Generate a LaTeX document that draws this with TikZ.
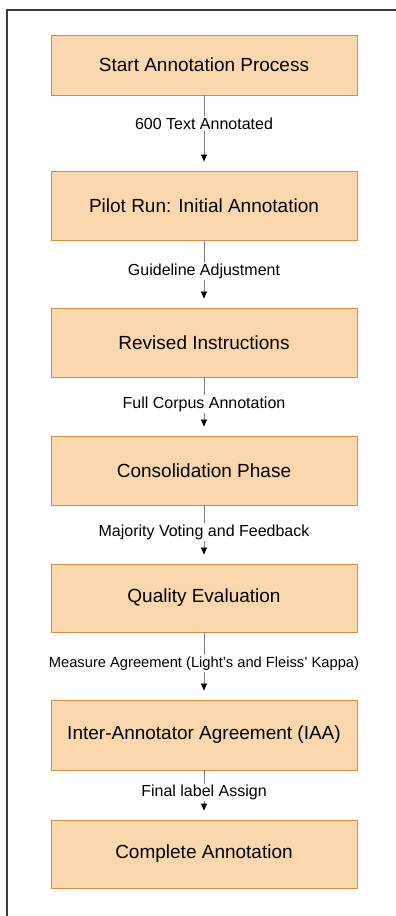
\documentclass[tikz,border=0pt]{standalone}
\usepackage{fontspec}
\setmainfont{Liberation Sans}
\usetikzlibrary{arrows.meta}
\definecolor{boxfill}{HTML}{FAD7AC}
\definecolor{boxline}{HTML}{D4903A}
\definecolor{arrowgray}{HTML}{7F7F7F}
\definecolor{framegray}{HTML}{3A3A3A}
\begin{document}
\begin{tikzpicture}[
    x=1pt, y=-1pt,
    stepbox/.style={rectangle, draw=boxline, fill=boxfill, line width=0.9pt, minimum width=306pt, minimum height=68pt, inner sep=0pt, font=\fontsize{19}{22}\selectfont}, % Estilo das etapas
    flowlabel/.style={fill=white, inner sep=1.5pt, yshift=-2pt, font=\fontsize{16}{18}\selectfont}, % Texto sobre as setas
    flowarrow/.style={draw=arrowgray, line width=0.8pt, -{Triangle[length=7pt, width=6pt, color=black]}}
]
\useasboundingbox (0,0) rectangle (396,916);
\draw[framegray, line width=1.6pt] (7,920) -- (7,10) -- (400,10);

\node[stepbox, minimum height=60pt] (start) at (204,65) {Start Annotation Process};
\node[stepbox, minimum height=69pt] (pilot) at (204,205.5) {Pilot Run: Initial Annotation};
\node[stepbox, minimum height=69pt] (revised) at (204,342.5) {Revised Instructions};
\node[stepbox, minimum height=69pt] (consol) at (204,470.5) {Consolidation Phase};
\node[stepbox] (quality) at (204,598) {Quality Evaluation};
\node[stepbox, minimum height=70pt] (iaa) at (204,735) {Inter-Annotator Agreement (IAA)};
\node[stepbox] (complete) at (204,854) {Complete Annotation};

% pontas das setas
\coordinate (tpilot) at ([yshift=9pt]pilot.north);
\coordinate (trevised) at ([yshift=9pt]revised.north);
\coordinate (tconsol) at ([yshift=9pt]consol.north);
\coordinate (tquality) at ([yshift=9pt]quality.north);
\coordinate (tiaa) at ([yshift=9pt]iaa.north);
\coordinate (tcomplete) at ([yshift=9pt]complete.north);

\draw[flowarrow] (start.south) -- (tpilot) node[midway, flowlabel, yshift=7pt] {600 Text Annotated};
\draw[flowarrow] (pilot.south) -- (trevised) node[midway, flowlabel] {Guideline Adjustment};
\draw[flowarrow] (revised.south) -- (tconsol) node[midway, flowlabel] {Full Corpus Annotation};
\draw[flowarrow] (consol.south) -- (tquality) node[midway, flowlabel] {Majority Voting and Feedback};
\draw[flowarrow] (quality.south) -- (tiaa) node[midway, flowlabel, font=\fontsize{14.7}{17}\selectfont] {Measure Agreement (Light’s and Fleiss’ Kappa)};
\draw[flowarrow] (iaa.south) -- (tcomplete) node[midway, flowlabel] {Final label Assign};
\end{tikzpicture}
\end{document}
